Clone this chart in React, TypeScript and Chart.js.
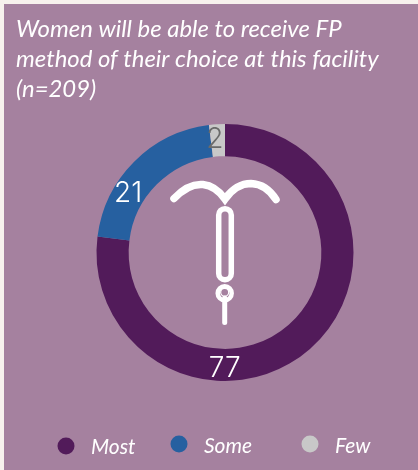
import React, { useEffect, useRef } from "react";
import { Chart, registerables } from "chart.js";

Chart.register(...registerables);

const titleLines = [
  "Women will be able to receive FP",
  "method of their choice at this facility",
  "(n=209)",
];
const categories = ["Most", "Some", "Few"];
const values = [77, 21, 2];
const sliceColors = ["#521b5a", "#2660a0", "#c8c8c8"];
const labelColors = ["#ffffff", "#ffffff", "#6a6a6a"];
// where along each slice its number sits (0 = start of arc, 1 = end)
const labelAlong = [0.65, 0.33, 0.3];
const legendDotX = [66, 179, 310];
const legendDotY = [446, 444, 444];
const legendTextX = [91, 204, 335];
const legendTextY = [454, 452.5, 452.5];

const PAGE_BG = "#f7f1ed";
const PANEL_BG = "#a5819f";

const paintBackground = {
  id: "paintBackground",
  beforeDraw(chart: any) {
    const { ctx, width, height } = chart;
    ctx.save();
    ctx.fillStyle = PAGE_BG;
    ctx.fillRect(0, 0, width, height);
    ctx.fillStyle = PANEL_BG;
    ctx.fillRect(4, 4, width - 4, height - 4);
    ctx.restore();
  },
};

const annotations = {
  id: "annotations",
  afterDraw(chart: any) {
    const { ctx } = chart;
    ctx.save();

    // title
    ctx.fillStyle = "#ffffff";
    ctx.textAlign = "left";
    ctx.textBaseline = "alphabetic";
    ctx.font = "italic 400 23.9px Lato";
    titleLines.forEach((line, i) => ctx.fillText(line, 16, 37 + i * 30));

    // slice numbers
    const arcs = chart.getDatasetMeta(0).data;
    ctx.textAlign = "center";
    ctx.textBaseline = "middle";
    ctx.font = "300 28px Inter";
    arcs.forEach((arc: any, i: number) => {
      const a = arc.startAngle + (arc.endAngle - arc.startAngle) * labelAlong[i];
      const r = (arc.innerRadius + arc.outerRadius) / 2 + 2;
      ctx.fillStyle = labelColors[i];
      ctx.fillText(String(values[i]), arc.x + Math.cos(a) * r, arc.y + Math.sin(a) * r + 1.5);
    });

    // legend
    ctx.textAlign = "left";
    ctx.textBaseline = "alphabetic";
    ctx.font = "italic 400 21px Lato";
    categories.forEach((name, i) => {
      ctx.beginPath();
      ctx.arc(legendDotX[i], legendDotY[i], 8.5, 0, Math.PI * 2);
      ctx.fillStyle = sliceColors[i];
      ctx.fill();
      ctx.fillStyle = "#ffffff";
      ctx.fillText(name, legendTextX[i], legendTextY[i]);
    });

    // IUD icon in the middle of the ring
    ctx.strokeStyle = "#ffffff";
    ctx.lineWidth = 7.5;
    ctx.lineCap = "round";
    ctx.lineJoin = "miter";
    ctx.beginPath();
    ctx.moveTo(174, 198.5);
    ctx.bezierCurveTo(182, 190, 192, 183.5, 203, 184.5);
    ctx.bezierCurveTo(213, 185.5, 220, 192, 225, 199);
    ctx.bezierCurveTo(230, 192, 238, 183.5, 251, 183.5);
    ctx.bezierCurveTo(262, 184, 270, 190, 276, 199.5);
    ctx.stroke();

    ctx.lineWidth = 5.5;
    ctx.beginPath();
    ctx.roundRect(218.7, 208.7, 12.6, 71, 6.3);
    ctx.stroke();

    ctx.lineWidth = 4.5;
    ctx.beginPath();
    ctx.arc(224.7, 293.3, 7, 0, Math.PI * 2);
    ctx.stroke();

    ctx.lineWidth = 1.2;
    ctx.beginPath();
    ctx.arc(224.7, 292.3, 4, 0, Math.PI * 2);
    ctx.stroke();

    ctx.lineWidth = 5;
    ctx.beginPath();
    ctx.moveTo(224.7, 298);
    ctx.lineTo(224.7, 322.5);
    ctx.stroke();

    ctx.restore();
  },
};

export default function App() {
  const ref = useRef<HTMLCanvasElement | null>(null);

  useEffect(() => {
    const chart = new Chart(ref.current as HTMLCanvasElement, {
      type: "doughnut",
      data: {
        labels: categories,
        datasets: [
          {
            data: values,
            backgroundColor: sliceColors,
            borderWidth: 0,
          },
        ],
      },
      options: {
        animation: false,
        responsive: false,
        cutout: "75%",
        layout: { padding: { left: 96.5, right: 64.5, top: 124, bottom: 89 } },
        plugins: {
          legend: { display: false },
          title: { display: false },
          tooltip: { enabled: false },
        },
      },
      plugins: [paintBackground, annotations],
    });
    return () => chart.destroy();
  }, []);

  return (
    <canvas
      ref={ref}
      width={418}
      height={470}
      style={{ position: "fixed", left: 0, top: 0, width: 418, height: 470, display: "block" }}
    />
  );
}
